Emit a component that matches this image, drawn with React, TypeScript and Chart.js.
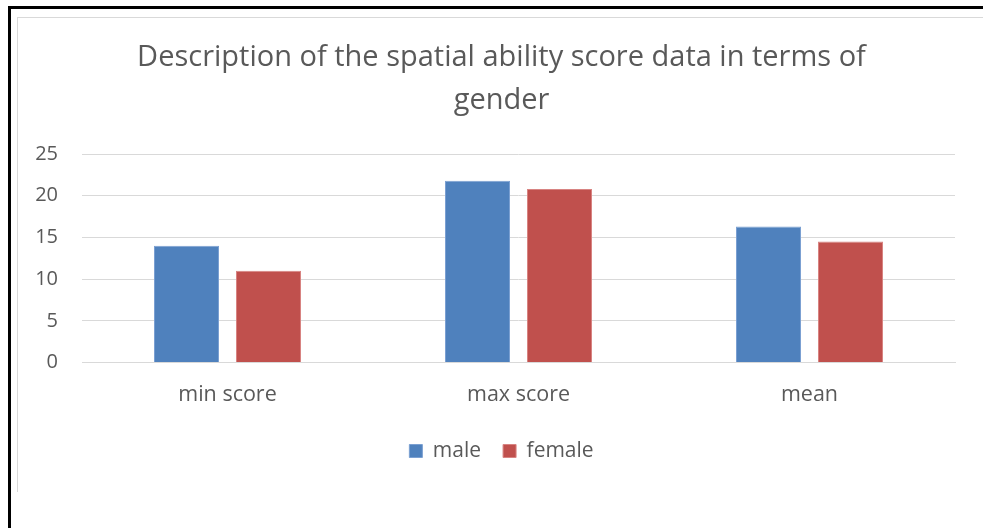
import { useEffect, useRef } from "react";
import { Chart, registerables } from "chart.js";

Chart.register(...registerables);

const categories = ["min score", "max score", "mean"];
const maleValues = [14, 21.8, 16.3];
const femaleValues = [11, 20.8, 14.5];
const seriesNames = ["male", "female"];
const titleLines = ["Description of the spatial ability score data in terms of", "gender"];
const yMax = 25;
const yStep = 5;

const FONT = "'Open Sans', Lato, sans-serif";
const TEXT = "#595959";
const GRID = "#d9d9d9";

export default function App() {
  const ref = useRef<HTMLCanvasElement>(null);

  useEffect(() => {
    const canvas = ref.current;
    if (!canvas) return;
    const chart = new Chart(canvas, {
      type: "bar",
      data: {
        labels: categories,
        datasets: [
          {
            label: seriesNames[0],
            data: maleValues,
            backgroundColor: "#4F81BD",
            borderColor: "#7BA0D2",
            borderWidth: 1,
            categoryPercentage: 0.5636,
            barPercentage: 0.7927,
          },
          {
            label: seriesNames[1],
            data: femaleValues,
            backgroundColor: "#C0504D",
            borderColor: "#D88482",
            borderWidth: 1,
            categoryPercentage: 0.5636,
            barPercentage: 0.7927,
          },
        ],
      },
      options: {
        responsive: false,
        animation: false,
        devicePixelRatio: 1,
        layout: { padding: { left: 17, right: 14, top: 0, bottom: 20.5 } },
        plugins: {
          title: {
            display: true,
            text: titleLines,
            color: TEXT,
            font: { family: FONT, size: 29, weight: "normal", lineHeight: 43 / 29 },
            padding: { top: 19.5, bottom: 31.5 },
          },
          legend: {
            position: "bottom",
            labels: {
              color: TEXT,
              font: { family: FONT, size: 21 },
              boxWidth: 13,
              boxHeight: 13,
              padding: 22,
            },
          },
          tooltip: { enabled: false },
        },
        scales: {
          x: {
            grid: { display: false, drawTicks: false },
            border: { display: true, color: GRID, width: 1 },
            ticks: {
              color: TEXT,
              font: { family: FONT, size: 21.5, lineHeight: 47 / 21.5 },
              padding: 9,
            },
            afterFit: (scale: any) => {
              scale.height = 56;
            },
          },
          y: {
            min: 0,
            max: yMax,
            ticks: {
              stepSize: yStep,
              color: TEXT,
              font: { family: FONT, size: 20 },
              padding: 24,
            },
            grid: { color: GRID, lineWidth: 1, drawTicks: false },
            border: { display: false },
            afterFit: (scale: any) => {
              scale.width = 48;
            },
          },
          yRight: {
            position: "right",
            min: 0,
            max: yMax,
            grid: { display: false, drawTicks: false },
            border: { display: false },
            ticks: { display: false },
            afterFit: (scale: any) => {
              scale.width = 14;
            },
          },
        },
      },
    });
    return () => chart.destroy();
  }, []);

  return (
    <div
      style={{
        position: "fixed",
        left: 0,
        top: 0,
        width: 983,
        height: 528,
        background: "#ffffff",
        overflow: "hidden",
      }}
    >
      <div style={{ position: "absolute", left: 8, top: 6, width: 975, height: 3, background: "#000" }} />
      <div style={{ position: "absolute", left: 8, top: 6, width: 3, height: 522, background: "#000" }} />
      <div
        style={{
          position: "absolute",
          left: 17,
          top: 17,
          width: 966,
          height: 475,
          borderTop: `1px solid ${GRID}`,
          borderLeft: `1px solid ${GRID}`,
          boxSizing: "border-box",
        }}
      />
      <canvas
        ref={ref}
        width={966}
        height={475}
        style={{ position: "absolute", left: 17, top: 17, width: 966, height: 475 }}
      />
    </div>
  );
}
